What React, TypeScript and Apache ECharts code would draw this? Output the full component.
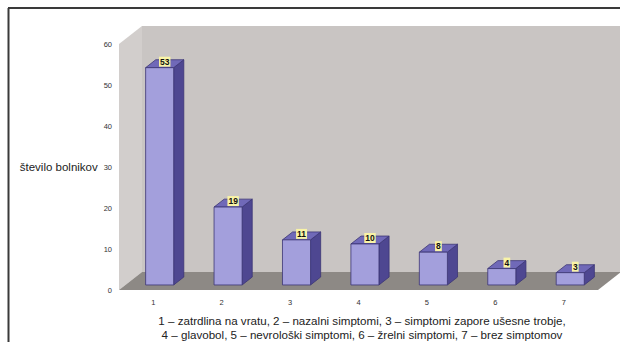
import React, { useEffect, useRef } from "react";
import * as echarts from "echarts";

const categories = ["1", "2", "3", "4", "5", "6", "7"];
const values = [53, 19, 11, 10, 8, 4, 3];
const yMin = 0;
const yMax = 60;
const yInterval = 10;
const yAxisName = "število bolnikov";
const captionLines = [
  "1 – zatrdlina na vratu, 2 – nazalni simptomi, 3 – simptomi zapore ušesne trobje,",
  "4 – glavobol, 5 – nevrološki simptomi, 6 – žrelni simptomi, 7 – brez simptomov",
];

const DEPTH_X = 23;
const DEPTH_Y = -18;

export default function App() {
  const ref = useRef<HTMLDivElement>(null);

  useEffect(() => {
    if (!ref.current) return;
    const chart = echarts.init(ref.current, null, { renderer: "svg" });

    const wallsRender = (params: any, api: any) => {
      const cs = params.coordSys;
      const x0 = cs.x;
      const x1 = cs.x + cs.width;
      const yTop = cs.y;
      const yBot = cs.y + cs.height;
      return {
        type: "group",
        children: [
          {
            type: "polygon",
            shape: {
              points: [
                [x0 + DEPTH_X, yTop + DEPTH_Y],
                [x1 + 60, yTop + DEPTH_Y],
                [x1 + 60, yBot + DEPTH_Y],
                [x0 + DEPTH_X, yBot + DEPTH_Y],
              ],
            },
            style: { fill: "#c9c5c3" },
          },
          {
            type: "polygon",
            shape: {
              points: [
                [x0, yBot],
                [x0, yTop],
                [x0 + DEPTH_X, yTop + DEPTH_Y],
                [x0 + DEPTH_X, yBot + DEPTH_Y],
              ],
            },
            style: { fill: "#d2cecc" },
          },
          {
            type: "polygon",
            shape: {
              points: [
                [x0, yBot],
                [x0 + DEPTH_X, yBot + DEPTH_Y],
                [x1 + DEPTH_X, yBot + DEPTH_Y],
                [x1, yBot],
              ],
            },
            style: { fill: "#8d8985" },
          },
        ],
      };
    };

    const barsRender = (params: any, api: any) => {
      const i = api.value(0);
      const v = api.value(1);
      const base = api.coord([i, 0]);
      const top = api.coord([i, v]);
      const bandW = api.size([1, 0])[0];
      const w = bandW * 0.41;
      const fx = DEPTH_X * 0.28;
      const fy = DEPTH_Y * 0.28;
      const dx = DEPTH_X * 0.44;
      const dy = DEPTH_Y * 0.44;
      const xl = base[0] - w / 2 + fx;
      const xr = xl + w;
      const yb = base[1] + fy;
      const yt = top[1] + fy;
      const edge = "#3b3575";
      return {
        type: "group",
        children: [
          {
            type: "polygon",
            shape: { points: [[xr, yt], [xr + dx, yt + dy], [xr + dx, yb + dy], [xr, yb]] },
            style: { fill: "#4e4791", stroke: edge, lineWidth: 0.8 },
          },
          {
            type: "polygon",
            shape: { points: [[xl, yt], [xl + dx, yt + dy], [xr + dx, yt + dy], [xr, yt]] },
            style: { fill: "#7069b8", stroke: edge, lineWidth: 0.8 },
          },
          {
            type: "polygon",
            shape: { points: [[xl, yt], [xr, yt], [xr, yb], [xl, yb]] },
            style: { fill: "#a39fdc", stroke: edge, lineWidth: 0.8 },
          },
          {
            type: "text",
            x: xl + w / 2 + dx / 2,
            y: yt + dy / 2 - 2,
            style: {
              text: String(v),
              fontSize: 8.5,
              fontWeight: "bold",
              fontFamily: "Liberation Sans, Arial, sans-serif",
              fill: "#111",
              align: "center",
              verticalAlign: "middle",
              backgroundColor: "#f9f4a6",
              padding: [1, 1, 0, 1],
            },
          },
        ],
      };
    };

    chart.setOption({
      animation: false,
      backgroundColor: "#ffffff",
      grid: { left: 119, right: 22, top: 44, bottom: 52, containLabel: false },
      xAxis: {
        type: "category",
        data: categories,
        axisLine: { show: false },
        axisTick: { show: false },
        axisLabel: {
          fontSize: 7.5,
          margin: 8,
          color: "#333",
          fontFamily: "Liberation Sans, Arial, sans-serif",
        },
      },
      yAxis: {
        type: "value",
        min: yMin,
        max: yMax,
        interval: yInterval,
        splitLine: { show: false },
        axisLine: { show: false },
        axisTick: { show: false },
        axisLabel: {
          fontSize: 7.5,
          margin: 7,
          color: "#333",
          fontFamily: "Liberation Sans, Arial, sans-serif",
        },
        name: yAxisName,
        nameLocation: "middle",
        nameRotate: 0,
        nameGap: 19,
        nameTextStyle: {
          fontSize: 11.5,
          color: "#222",
          fontFamily: "Liberation Sans, Arial, sans-serif",
        },
      },
      graphic: [
        {
          type: "line",
          shape: { x1: 8, y1: 8, x2: 620, y2: 8 },
          style: { stroke: "#3a3a3a", lineWidth: 2 },
        },
        {
          type: "line",
          shape: { x1: 8.5, y1: 8, x2: 8.5, y2: 342 },
          style: { stroke: "#3a3a3a", lineWidth: 2 },
        },
        ...captionLines.map((t, k) => ({
          type: "text",
          x: 362,
          y: 320 + k * 14,
          style: {
            text: t,
            fontSize: 11.6,
            fill: "#222",
            fontFamily: "Liberation Sans, Arial, sans-serif",
            textAlign: "center",
            textVerticalAlign: "middle",
          },
        })),
      ],
      series: [
        {
          type: "custom",
          name: "walls",
          data: [[0, 0]],
          clip: false,
          silent: true,
          z: 1,
          renderItem: wallsRender,
        },
        {
          type: "custom",
          name: "bars",
          data: values.map((v, i) => [i, v]),
          encode: { x: 0, y: 1 },
          clip: false,
          z: 2,
          renderItem: barsRender,
        },
      ],
    });

    return () => chart.dispose();
  }, []);

  return (
    <div
      ref={ref}
      style={{ position: "fixed", left: 0, top: 0, width: 620, height: 342 }}
    />
  );
}
